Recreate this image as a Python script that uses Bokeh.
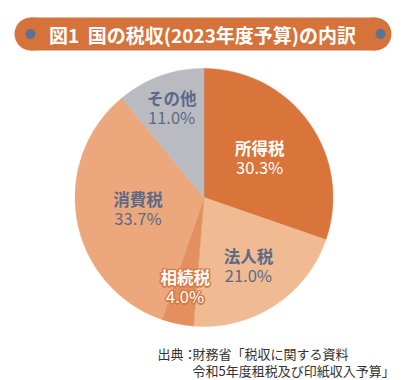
import math
from bokeh.plotting import figure
from bokeh.models import Range1d, ColumnDataSource
from bokeh.core.properties import value
from bokeh.embed import file_html
from bokeh.resources import INLINE

# ---- data ----
categories = ["所得税", "法人税", "相続税", "消費税", "その他"]
shares = [30.3, 21.0, 4.0, 33.7, 11.0]
pct_labels = ["30.3%", "21.0%", "4.0%", "33.7%", "11.0%"]
title_text = "図1\u00a0\u00a0国の税収(2023年度予算)の内訳"
source_line1_head = "出典："
source_line1 = "財務省「税収に関する資料"
source_line2 = "令和5年度租税及び印紙収入予算」"

# ---- styles ----
slice_colors = ["#D9743A", "#F0BA92", "#E3905E", "#ECA77C", "#B9BBC1"]
label_colors = ["#FFFFFF", "#5B6A88", "#FFFFFF", "#5B6A88", "#5B6A88"]
label_radial = [0.53, 0.63, 0.71, 0.52, 0.74]
FONT = "Noto Sans CJK JP"

W, H = 406, 380
p = figure(width=W, height=H, output_backend="svg", toolbar_location=None,
           x_range=Range1d(0, W), y_range=Range1d(0, H), min_border=0)
p.axis.visible = False
p.grid.visible = False
p.outline_line_color = None
p.background_fill_color = "white"
p.border_fill_color = "white"

def Y(img_y):
    return H - img_y

# ---- banner ----
bx0, bx1, by0, by1 = 14, 391, 17, 50
br = (by1 - by0) / 2
p.quad(left=[bx0 + br], right=[bx1 - br], top=[Y(by0)], bottom=[Y(by1)],
       fill_color="#D5733B", line_color=None)
p.circle(x=[bx0 + br, bx1 - br], y=[Y((by0 + by1) / 2)] * 2, radius=br,
         fill_color="#D5733B", line_color=None)
p.circle(x=[30, 380], y=[Y(33.5)] * 2, radius=5,
         fill_color="#5C7196", line_color=None)
p.text(x=[202], y=[Y(33.5)], text=[title_text], text_align="center",
       text_baseline="middle", text_color="white", text_font=value(FONT),
       text_font_style="bold", text_font_size="19px")

# ---- pie ----
cx, cy, R = 203.5, Y(197), 129
total = sum(shares)
starts, ends, mids = [], [], []
a = math.pi / 2
for s in shares:
    span = 2 * math.pi * s / total
    starts.append(a - span)
    ends.append(a)
    mids.append(a - span / 2)
    a -= span

src = ColumnDataSource(dict(start=starts, end=ends, color=slice_colors))
p.wedge(x=cx, y=cy, radius=R, start_angle="start", end_angle="end",
        fill_color="color", line_color="color", line_width=0.5, source=src)

lx = [cx + f * R * math.cos(m) for f, m in zip(label_radial, mids)]
ly = [cy + f * R * math.sin(m) for f, m in zip(label_radial, mids)]

# halo for the small slice label
halo_idx = [2]
for dx, dy in [(-1.5, 0), (1.5, 0), (0, -1.5), (0, 1.5), (-1.2, -1.2), (1.2, 1.2), (-1.2, 1.2), (1.2, -1.2)]:
    for i in halo_idx:
        p.text(x=[lx[i]], y=[ly[i] + 10], text=[categories[i]], text_align="center",
               text_baseline="middle", text_color="#D9773F", text_font=value(FONT),
               text_font_style="bold", text_font_size="16.5px", x_offset=dx, y_offset=dy)
        p.text(x=[lx[i]], y=[ly[i] - 9], text=[pct_labels[i]], text_align="center",
               text_baseline="middle", text_color="#D9773F", text_font=value(FONT),
               text_font_size="16.5px", x_offset=dx, y_offset=dy)

lab = ColumnDataSource(dict(x=lx, yn=[v + 10 for v in ly], yp=[v - 9 for v in ly],
                            name=categories, pct=pct_labels, c=label_colors))
p.text(x="x", y="yn", text="name", text_color="c", source=lab, text_align="center",
       text_baseline="middle", text_font=value(FONT), text_font_style="bold",
       text_font_size="16.5px")
p.text(x="x", y="yp", text="pct", text_color="c", source=lab, text_align="center",
       text_baseline="middle", text_font=value(FONT), text_font_size="16.5px")

# ---- source note ----
p.text(x=[157], y=[Y(353)], text=[source_line1_head], text_align="left",
       text_baseline="middle", text_color="#333333", text_font=value(FONT),
       text_font_size="13px")
p.text(x=[192, 192], y=[Y(353), Y(370)], text=[source_line1, source_line2],
       text_align="left", text_baseline="middle", text_color="#333333",
       text_font=value(FONT), text_font_size="13px")

open("out.html", "w").write(file_html(p, INLINE))
